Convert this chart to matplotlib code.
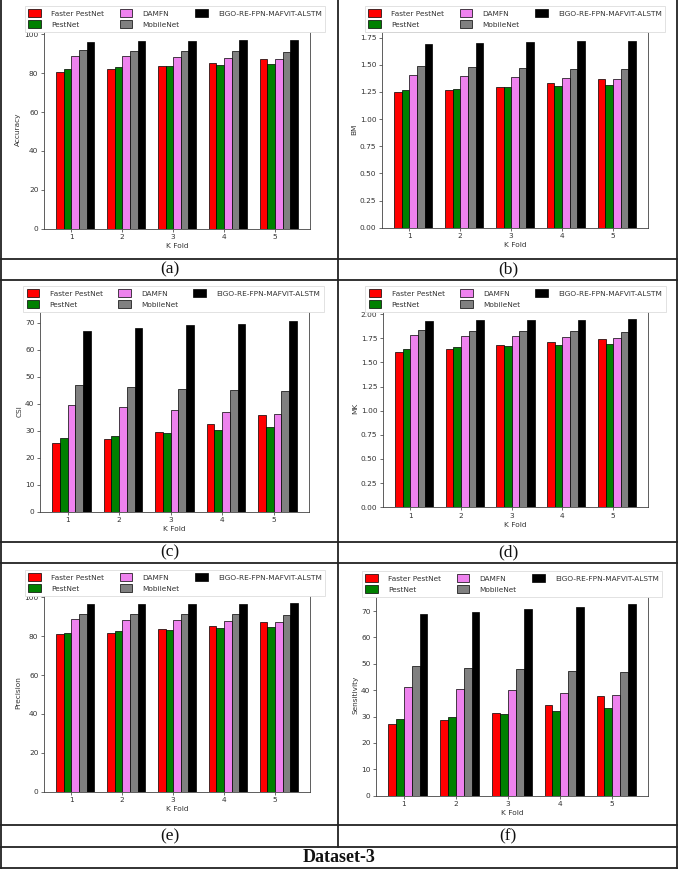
import numpy as np
import matplotlib
matplotlib.use("Agg")
import matplotlib.pyplot as plt
from matplotlib.lines import Line2D

folds = [1, 2, 3, 4, 5]
methods = ["Faster PestNet", "PestNet", "DAMFN", "MobileNet", "EIGO-RE-FPN-MAFViT-ALSTM"]
colors = ["red", "green", "violet", "gray", "black"]

accuracy = {
    "Faster PestNet": [80.4, 82.0, 83.7, 85.4, 87.3],
    "PestNet": [82.2, 83.0, 83.5, 84.2, 84.7],
    "DAMFN": [88.8, 88.7, 88.3, 88.0, 87.5],
    "MobileNet": [91.8, 91.6, 91.4, 91.3, 90.9],
    "EIGO-RE-FPN-MAFViT-ALSTM": [96.2, 96.6, 96.7, 96.9, 97.1],
}
bm = {
    "Faster PestNet": [1.25, 1.27, 1.30, 1.33, 1.37],
    "PestNet": [1.27, 1.28, 1.295, 1.305, 1.315],
    "DAMFN": [1.405, 1.40, 1.39, 1.38, 1.37],
    "MobileNet": [1.49, 1.48, 1.47, 1.465, 1.46],
    "EIGO-RE-FPN-MAFViT-ALSTM": [1.695, 1.70, 1.71, 1.715, 1.72],
}
csi = {
    "Faster PestNet": [25.3, 27.1, 29.5, 32.4, 35.8],
    "PestNet": [27.2, 28.2, 29.2, 30.3, 31.4],
    "DAMFN": [39.6, 38.7, 37.9, 37.0, 36.3],
    "MobileNet": [47.1, 46.2, 45.7, 45.1, 44.7],
    "EIGO-RE-FPN-MAFViT-ALSTM": [67.2, 68.1, 69.1, 69.7, 70.8],
}
mk = {
    "Faster PestNet": [1.612, 1.643, 1.678, 1.709, 1.743],
    "PestNet": [1.643, 1.660, 1.674, 1.684, 1.695],
    "DAMFN": [1.785, 1.778, 1.771, 1.760, 1.750],
    "MobileNet": [1.836, 1.830, 1.826, 1.822, 1.816],
    "EIGO-RE-FPN-MAFViT-ALSTM": [1.933, 1.936, 1.940, 1.943, 1.947],
}
precision = {
    "Faster PestNet": [81.0, 81.8, 83.5, 85.4, 87.3],
    "PestNet": [81.8, 82.8, 83.4, 84.2, 84.7],
    "DAMFN": [88.7, 88.5, 88.3, 87.8, 87.3],
    "MobileNet": [91.6, 91.4, 91.4, 91.2, 90.9],
    "EIGO-RE-FPN-MAFViT-ALSTM": [96.4, 96.6, 96.7, 96.7, 96.9],
}
sensitivity = {
    "Faster PestNet": [27.1, 28.8, 31.4, 34.3, 37.9],
    "PestNet": [29.0, 30.0, 30.8, 32.1, 33.1],
    "DAMFN": [41.3, 40.6, 39.9, 38.9, 38.3],
    "MobileNet": [49.2, 48.3, 47.9, 47.4, 46.9],
    "EIGO-RE-FPN-MAFViT-ALSTM": [69.0, 69.8, 70.7, 71.6, 72.6],
}

# (data, ylabel, axes box px (left, right, top, bottom), yticks, fmt, legend center x, legend bottom y)
panels = [
    (accuracy, "Accuracy", (44, 310, 30.5, 228.7), [0, 20, 40, 60, 80, 100], "{:.0f}", 175, 32),
    (bm, "BM", (382, 648, 31.6, 227.7), [0, 0.25, 0.5, 0.75, 1.0, 1.25, 1.5, 1.75], "{:.2f}", 515, 32),
    (csi, "CSI", (40, 309, 311.3, 511.7), [0, 10, 20, 30, 40, 50, 60, 70], "{:.0f}", 173.5, 312),
    (mk, "MK", (383, 648, 309.8, 507.3), [0, 0.25, 0.5, 0.75, 1.0, 1.25, 1.5, 1.75, 2.0], "{:.2f}", 515.5, 312),
    (precision, "Precision", (44, 310, 593.9, 791.7), [0, 20, 40, 60, 80, 100], "{:.0f}", 175, 596),
    (sensitivity, "Sensitivity", (376, 648, 594.6, 795.7), [0, 10, 20, 30, 40, 50, 60, 70], "{:.0f}", 512, 597),
]

W, H = 678, 869
fig = plt.figure(figsize=(W / 100, H / 100), dpi=100)
fig.patch.set_facecolor("white")

def fx(x):
    return x / W

def fy(y):
    return 1 - y / H

fs = 5.3
w = 0.15
x = np.array(folds, dtype=float)

for data, ylabel, (l, r, t, b), yt, fmt, lcx, lby in panels:
    ax = fig.add_axes([fx(l), fy(b), (r - l) / W, (b - t) / H])
    for k, m in enumerate(methods):
        ax.bar(x + (k - 1.5) * w, data[m], width=w, color=colors[k],
               edgecolor="black", linewidth=0.5, label=m)
    ax.set_xticks(x)
    ax.set_xticklabels([str(f) for f in folds])
    ax.set_yticks(yt)
    ax.set_yticklabels([fmt.format(v) for v in yt])
    ax.tick_params(labelsize=fs, length=2, width=0.5, pad=2, colors="#333333")
    ax.set_xlabel("K Fold", fontsize=fs, labelpad=2, color="#333333")
    ax.set_ylabel(ylabel, fontsize=fs, labelpad=2, color="#333333")
    for s in ax.spines.values():
        s.set_linewidth(0.6)
        s.set_color("#444444")
    leg = ax.legend(loc="lower center", bbox_to_anchor=(fx(lcx), fy(lby)),
                    bbox_transform=fig.transFigure, ncol=3,
                    fontsize=fs, handlelength=1.7, handleheight=1.35,
                    handletextpad=1.4, columnspacing=2.1, borderpad=0.5,
                    labelspacing=0.35, framealpha=1, edgecolor="#dddddd",
                    fancybox=False, borderaxespad=0)
    leg.get_frame().set_linewidth(0.6)
    for txt in leg.get_texts():
        txt.set_color("#333333")

# table grid lines
lc = "#222222"
lw = 1.3
def hline(y, x0=1, x1=677):
    fig.add_artist(Line2D([fx(x0), fx(x1)], [fy(y), fy(y)], transform=fig.transFigure,
                          color=lc, linewidth=lw))
def vline(xp, y0, y1):
    fig.add_artist(Line2D([fx(xp), fx(xp)], [fy(y0), fy(y1)], transform=fig.transFigure,
                          color=lc, linewidth=lw))

for yy in [259, 280, 542, 563, 825, 847, 868]:
    hline(yy)
vline(1, 0, 868)
vline(677, 0, 868)
vline(338, 0, 847)

serif = ["Liberation Serif", "DejaVu Serif"]
caps_pos = {"(a)": (170, 269.5), "(b)": (508, 269.5), "(c)": (170, 552.5),
            "(d)": (508, 552.5), "(e)": (170, 836), "(f)": (508, 836)}
for cap, (cx, cy) in caps_pos.items():
    fig.text(fx(cx), fy(cy), cap, ha="center", va="center", fontsize=12.5,
             family=serif, color="#111111")
fig.text(fx(339), fy(857.5), "Dataset-3", ha="center", va="center", fontsize=13,
         family=serif, fontweight="bold", color="#111111")

fig.savefig("out.png", dpi=100, facecolor="white")
